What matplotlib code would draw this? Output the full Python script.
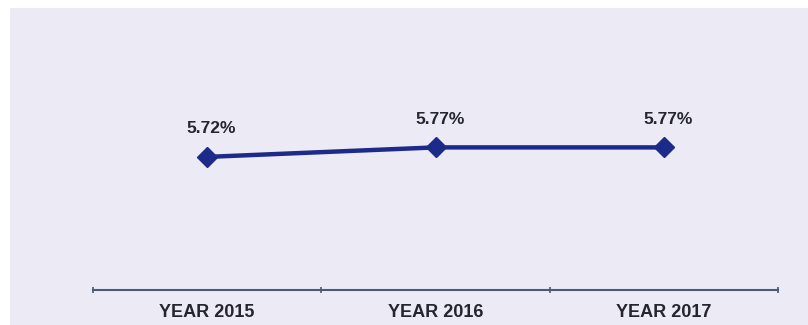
import matplotlib
matplotlib.use("Agg")
import matplotlib.pyplot as plt
from matplotlib.patches import Rectangle

categories = ["YEAR 2015", "YEAR 2016", "YEAR 2017"]
rates = [5.72, 5.77, 5.77]
rate_labels = ["5.72%", "5.77%", "5.77%"]

LINE_COLOR = "#1c2a8a"
BG_COLOR = "#ecebf5"

W, H = 808, 325
fig = plt.figure(figsize=(W / 100, H / 100), dpi=100, facecolor="white")

# lavender panel behind the chart
fig.patches.append(Rectangle((10 / W, 0), 1 - 10 / W, 1 - 8 / H,
                             transform=fig.transFigure, facecolor=BG_COLOR,
                             edgecolor="none", zorder=-10))

ax = fig.add_axes([93 / W, 35 / H, (778 - 93) / W, (290 - 20) / H])
ax.set_facecolor("none")
ax.set_zorder(5)

x = list(range(len(categories)))
ax.plot(x, rates, color=LINE_COLOR, lw=3.2, marker="D", markersize=10.5,
        markerfacecolor=LINE_COLOR, markeredgecolor=LINE_COLOR)

for xi, v, lab in zip(x, rates, rate_labels):
    ax.annotate(lab, (xi, v), xytext=(3, 15), textcoords="offset points",
                ha="center", va="bottom", fontsize=12.5, fontweight="bold",
                family="Liberation Sans", color="#252530")

ax.set_xlim(-0.5, len(categories) - 0.5)
ax.set_ylim(5.02, 6.44)

for side in ("top", "right", "left"):
    ax.spines[side].set_visible(False)
ax.spines["bottom"].set_color("#4a5a70")
ax.spines["bottom"].set_linewidth(1.5)

ax.set_yticks([])
ax.set_xticks([-0.5, 0.5, 1.5, 2.5])
ax.set_xticklabels([])
ax.set_xticks(x, minor=True)
ax.set_xticklabels(categories, minor=True, fontsize=13, fontweight="bold",
                   family="Liberation Sans", color="#252530")
ax.tick_params(axis="x", which="major", length=5, width=1.2, color="#4a5a70",
               direction="inout")
ax.tick_params(axis="x", which="minor", length=0, pad=10)

fig.savefig("out.png", dpi=100, facecolor="white")
